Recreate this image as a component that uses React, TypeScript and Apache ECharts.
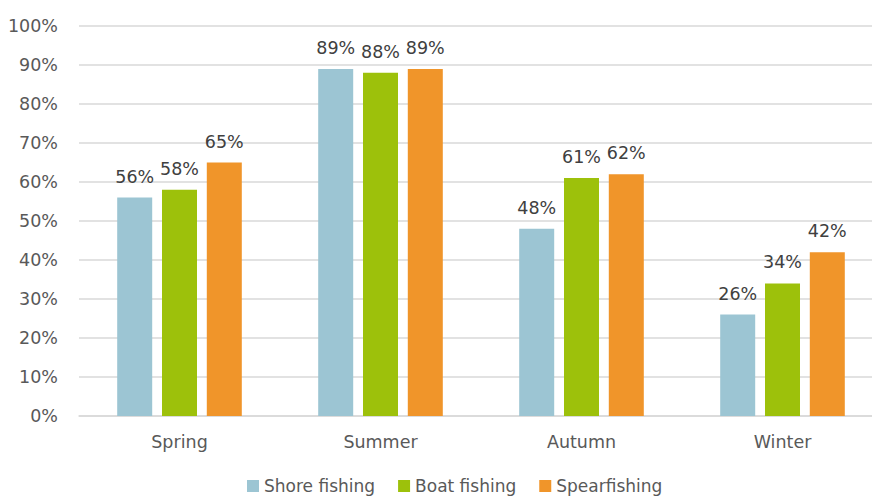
import React, { useEffect, useRef } from "react";
import * as echarts from "echarts";

const categories = ["Spring", "Summer", "Autumn", "Winter"];
const shoreFishing = [56, 89, 48, 26];
const boatFishing = [58, 88, 61, 34];
const spearfishing = [65, 89, 62, 42];

export default function App() {
  const ref = useRef<HTMLDivElement>(null);
  useEffect(() => {
    const chart = echarts.init(ref.current!, null, { renderer: "svg" });
    const font = "DejaVu Sans";
    const label = {
      show: true,
      position: "top",
      distance: 12,
      formatter: "{c}%",
      color: "#404040",
      fontSize: 17.5,
      fontFamily: font,
    };
    const mk = (name: string, data: number[], color: string) => ({
      name,
      type: "bar",
      data,
      barWidth: 35,
      barGap: "28%",
      itemStyle: { color },
      label,
    });
    chart.setOption({
      animation: false,
      textStyle: { fontFamily: font },
      grid: {
        left: 79,
        width: 804,
        top: 26,
        height: 390,
        containLabel: false,
        outerBoundsMode: "none",
      },
      legend: {
        top: 477,
        left: 247,
        padding: 0,
        itemWidth: 12,
        itemHeight: 12,
        itemGap: 23,
        icon: "rect",
        textStyle: { color: "#595959", fontSize: 17, fontFamily: font, lineHeight: 18 },
        data: ["Shore fishing", "Boat fishing", "Spearfishing"],
      },
      xAxis: {
        type: "category",
        data: categories,
        axisLine: { lineStyle: { color: "#D9D9D9", width: 1.5 } },
        axisTick: { show: false },
        axisLabel: { color: "#595959", fontSize: 17.5, fontFamily: font, margin: 17 },
      },
      yAxis: {
        type: "value",
        min: 0,
        max: 100,
        interval: 10,
        axisLine: { show: false },
        axisTick: { show: false },
        splitLine: { lineStyle: { color: "#D9D9D9", width: 1.5 } },
        axisLabel: {
          formatter: "{value}%",
          color: "#595959",
          fontSize: 17.5,
          fontFamily: font,
          margin: 21,
        },
      },
      series: [
        mk("Shore fishing", shoreFishing, "#9CC5D3"),
        mk("Boat fishing", boatFishing, "#9DC10B"),
        mk("Spearfishing", spearfishing, "#F0952A"),
      ],
    });
    return () => chart.dispose();
  }, []);
  return <div ref={ref} style={{ width: 872, height: 496, position: "absolute", left: 0, top: 0 }} />;
}
